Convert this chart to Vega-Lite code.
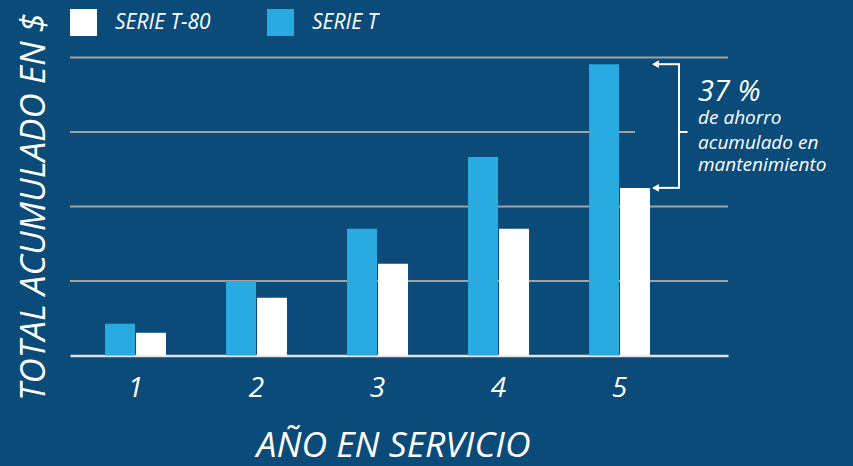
{
  "$schema": "https://vega.github.io/schema/vega-lite/v6.json",
  "width": 658,
  "height": 298,
  "autosize": {"type": "none"},
  "padding": {"left": 70, "top": 57.5, "right": 125, "bottom": 110.5},
  "background": "#0a4b7a",
  "config": {
    "view": {"stroke": null},
    "font": "Open Sans",
    "axisX": {
      "domainColor": "#e2e2e2",
      "domainWidth": 2.5,
      "ticks": false,
      "tickSize": 0,
      "grid": false,
      "labelAngle": 0,
      "labelFont": "Open Sans",
      "labelFontStyle": "italic",
      "labelFontSize": 28,
      "labelColor": "#ffffff",
      "labelPadding": 19,
      "titleFont": "Open Sans",
      "titleFontStyle": "italic",
      "titleFontWeight": "normal",
      "titleFontSize": 35.5,
      "titleColor": "#ffffff",
      "titlePadding": 26,
      "titleX": 323
    },
    "axisY": {
      "domain": false,
      "ticks": false,
      "tickSize": 0,
      "labels": false,
      "grid": false,
      "titleFont": "Open Sans",
      "titleFontStyle": "italic",
      "titleFontWeight": "normal",
      "titleFontSize": 35,
      "titleColor": "#ffffff",
      "titlePadding": 19
    },
    "legend": {
      "orient": "none",
      "legendX": 0,
      "legendY": -48.5,
      "direction": "horizontal",
      "title": null,
      "padding": 0,
      "symbolType": "square",
      "symbolSize": 729,
      "symbolStrokeWidth": 0,
      "symbolOpacity": 1,
      "labelFont": "Open Sans",
      "labelFontStyle": "italic",
      "labelFontSize": 21,
      "labelColor": "#ffffff",
      "labelOffset": 18,
      "columnPadding": 56
    }
  },
  "datasets": {
    "barras": [
      {"anio": "1", "serie": "SERIE T", "valor": 0.425},
      {"anio": "1", "serie": "SERIE T-80", "valor": 0.305},
      {"anio": "2", "serie": "SERIE T", "valor": 1.0},
      {"anio": "2", "serie": "SERIE T-80", "valor": 0.774},
      {"anio": "3", "serie": "SERIE T", "valor": 1.70},
      {"anio": "3", "serie": "SERIE T-80", "valor": 1.23},
      {"anio": "4", "serie": "SERIE T", "valor": 2.665},
      {"anio": "4", "serie": "SERIE T-80", "valor": 1.70},
      {"anio": "5", "serie": "SERIE T", "valor": 3.91},
      {"anio": "5", "serie": "SERIE T-80", "valor": 2.25}
    ],
    "rejilla": [{"v": 1}, {"v": 2}, {"v": 4}],
    "rejilla_corta": [{"v": 3, "desde": "1", "hasta": "5"}],
    "ahorro": [{"anio": "5", "serie_t": 3.91, "serie_t80": 2.25, "medio": 3.0, "pct": "37 %"}],
    "nota": [
      {"anio": "5", "linea": "de ahorro", "y": 3.108},
      {"anio": "5", "linea": "acumulado en", "y": 2.773},
      {"anio": "5", "linea": "mantenimiento", "y": 2.478}
    ]
  },
  "layer": [
    {
      "data": {"name": "rejilla"},
      "mark": {"type": "rule", "color": "#a2a2a2", "strokeWidth": 2},
      "encoding": {
        "y": {"field": "v", "type": "quantitative", "title": "TOTAL ACUMULADO EN $"}
      }
    },
    {
      "data": {"name": "rejilla_corta"},
      "mark": {"type": "rule", "color": "#a2a2a2", "strokeWidth": 2, "xOffset": -65.5, "x2Offset": 15.5},
      "encoding": {
        "x": {"field": "desde", "type": "nominal", "title": "AÑO EN SERVICIO"},
        "x2": {"field": "hasta"},
        "y": {"field": "v", "type": "quantitative", "title": "TOTAL ACUMULADO EN $"}
      }
    },
    {
      "data": {"name": "barras"},
      "mark": {"type": "bar"},
      "encoding": {
        "x": {
          "field": "anio",
          "type": "nominal",
          "title": "AÑO EN SERVICIO",
          "scale": {"paddingInner": 0.496, "paddingOuter": 0.467, "align": 0.31}
        },
        "xOffset": {
          "field": "serie",
          "type": "nominal",
          "sort": ["SERIE T", "SERIE T-80"],
          "scale": {"paddingInner": 0.033, "paddingOuter": 0}
        },
        "y": {
          "field": "valor",
          "type": "quantitative",
          "title": "TOTAL ACUMULADO EN $",
          "scale": {"domain": [0, 4], "nice": false}
        },
        "color": {
          "field": "serie",
          "type": "nominal",
          "sort": ["SERIE T-80", "SERIE T"],
          "scale": {"domain": ["SERIE T-80", "SERIE T"], "range": ["#ffffff", "#29aae1"]}
        }
      }
    },
    {
      "data": {"name": "ahorro"},
      "mark": {"type": "rule", "color": "#ffffff", "strokeWidth": 2, "xOffset": 59.5},
      "encoding": {
        "x": {"field": "anio", "type": "nominal", "title": "AÑO EN SERVICIO"},
        "y": {"field": "serie_t", "type": "quantitative", "title": "TOTAL ACUMULADO EN $"},
        "y2": {"field": "serie_t80"}
      }
    },
    {
      "data": {"name": "ahorro"},
      "mark": {"type": "rule", "color": "#ffffff", "strokeWidth": 2, "xOffset": 34, "x2Offset": 60.5},
      "encoding": {
        "x": {"field": "anio", "type": "nominal", "title": "AÑO EN SERVICIO"},
        "x2": {"field": "anio"},
        "y": {"field": "serie_t", "type": "quantitative", "title": "TOTAL ACUMULADO EN $"}
      }
    },
    {
      "data": {"name": "ahorro"},
      "mark": {"type": "rule", "color": "#ffffff", "strokeWidth": 2, "xOffset": 34, "x2Offset": 60.5},
      "encoding": {
        "x": {"field": "anio", "type": "nominal", "title": "AÑO EN SERVICIO"},
        "x2": {"field": "anio"},
        "y": {"field": "serie_t80", "type": "quantitative", "title": "TOTAL ACUMULADO EN $"}
      }
    },
    {
      "data": {"name": "ahorro"},
      "mark": {"type": "rule", "color": "#ffffff", "strokeWidth": 2, "xOffset": 59.5, "x2Offset": 68},
      "encoding": {
        "x": {"field": "anio", "type": "nominal", "title": "AÑO EN SERVICIO"},
        "x2": {"field": "anio"},
        "y": {"field": "medio", "type": "quantitative", "title": "TOTAL ACUMULADO EN $"}
      }
    },
    {
      "data": {"name": "ahorro"},
      "mark": {"type": "point", "shape": "triangle-left", "size": 60, "filled": true, "color": "#ffffff", "opacity": 1, "xOffset": 36},
      "encoding": {
        "x": {"field": "anio", "type": "nominal", "title": "AÑO EN SERVICIO"},
        "y": {"field": "serie_t", "type": "quantitative", "title": "TOTAL ACUMULADO EN $"}
      }
    },
    {
      "data": {"name": "ahorro"},
      "mark": {"type": "point", "shape": "triangle-left", "size": 60, "filled": true, "color": "#ffffff", "opacity": 1, "xOffset": 36},
      "encoding": {
        "x": {"field": "anio", "type": "nominal", "title": "AÑO EN SERVICIO"},
        "y": {"field": "serie_t80", "type": "quantitative", "title": "TOTAL ACUMULADO EN $"}
      }
    },
    {
      "data": {"name": "ahorro"},
      "mark": {"type": "text", "align": "left", "baseline": "alphabetic", "xOffset": 78.5, "font": "Open Sans", "fontStyle": "italic", "fontSize": 29, "color": "#ffffff"},
      "encoding": {
        "x": {"field": "anio", "type": "nominal", "title": "AÑO EN SERVICIO"},
        "y": {"datum": 3.42, "type": "quantitative", "title": "TOTAL ACUMULADO EN $"},
        "text": {"field": "pct"}
      }
    },
    {
      "data": {"name": "nota"},
      "mark": {"type": "text", "align": "left", "baseline": "alphabetic", "xOffset": 78.5, "font": "Open Sans", "fontStyle": "italic", "fontSize": 19, "color": "#ffffff"},
      "encoding": {
        "x": {"field": "anio", "type": "nominal", "title": "AÑO EN SERVICIO"},
        "y": {"field": "y", "type": "quantitative", "title": "TOTAL ACUMULADO EN $"},
        "text": {"field": "linea"}
      }
    }
  ]
}
